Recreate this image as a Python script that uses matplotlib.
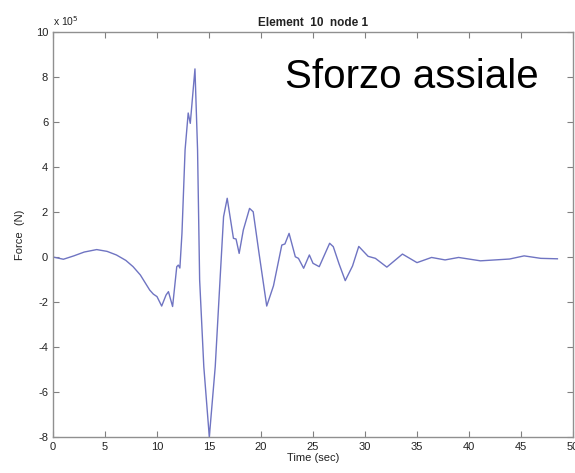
import numpy as np
from matplotlib import pyplot as plt

# force history (time in s, force in 1e5 N)
time_s = [0.0, 1.0, 2.0, 3.0, 4.2, 5.2, 6.1, 7.0, 7.7, 8.4, 9.3, 9.65, 10.0,
          10.45, 10.87, 11.1, 11.5, 11.9, 12.05, 12.2, 12.4, 12.7, 13.0, 13.2,
          13.65, 13.9, 14.1, 14.5, 15.03, 15.6, 16.06, 16.4, 16.75, 17.35,
          17.6, 17.9, 18.3, 18.9, 19.25, 19.8, 20.55, 21.2, 22.0, 22.3, 22.7,
          23.3, 23.6, 24.1, 24.65, 25.0, 25.6, 26.6, 26.95, 27.5, 28.1, 28.8,
          29.4, 30.3, 31.0, 32.1, 33.6, 35.0, 36.4, 37.7, 39.0, 41.1, 43.9,
          45.3, 46.9, 48.5]
force = [0.0, -0.1, 0.05, 0.22, 0.33, 0.25, 0.09, -0.15, -0.43, -0.8, -1.47,
         -1.65, -1.76, -2.18, -1.69, -1.54, -2.2, -0.43, -0.36, -0.49, 1.05,
         4.76, 6.4, 5.94, 8.36, 4.76, -1.02, -4.87, -8.0, -4.87, -1.02, 1.79,
         2.61, 0.83, 0.8, 0.16, 1.2, 2.16, 2.01, 0.2, -2.18, -1.28, 0.53,
         0.58, 1.05, 0.01, -0.06, -0.5, 0.09, -0.28, -0.43, 0.61, 0.46, -0.3,
         -1.05, -0.4, 0.47, 0.03, -0.06, -0.45, 0.13, -0.25, -0.02, -0.13,
         -0.02, -0.17, -0.09, 0.05, -0.06, -0.08]

x_ticks = [0, 5, 10, 15, 20, 25, 30, 35, 40, 45, 50]
y_ticks = [-8, -6, -4, -2, 0, 2, 4, 6, 8, 10]

plt.rcParams['font.family'] = ['Liberation Sans', 'DejaVu Sans']
plt.rcParams['axes.unicode_minus'] = False

fig = plt.figure(figsize=(5.75, 4.73), dpi=100)
ax = fig.add_axes([53 / 575, 1 - 437 / 473, 520 / 575, 405 / 473])

ax.plot(time_s, force, color='#6f74c2', lw=1.0)

ax.set_xlim(0, 50)
ax.set_ylim(-8, 10)
ax.set_xticks(x_ticks)
ax.set_yticks(y_ticks)
ax.tick_params(direction='in', length=4, width=0.8, colors='#808080',
               labelcolor='#222222', labelsize=8, top=True, right=True)
for sp in ax.spines.values():
    sp.set_color('#909090')
    sp.set_linewidth(1.0)

ax.set_xlabel('Time (sec)', fontsize=8, color='#222222', labelpad=1)
ax.set_ylabel('Force  (N)', fontsize=8, color='#222222', labelpad=8)
ax.set_title('Element  10  node 1', fontsize=8.5, fontweight='bold',
             color='#222222', pad=4)
ax.text(0.0, 1.01, r'x 10$^5$', transform=ax.transAxes, fontsize=7.5,
        color='#222222', va='bottom', ha='left')
ax.text(0.69, 0.89, 'Sforzo assiale', transform=ax.transAxes, fontsize=29,
        color='black', ha='center', va='center')

fig.savefig('out.png', dpi=100)
